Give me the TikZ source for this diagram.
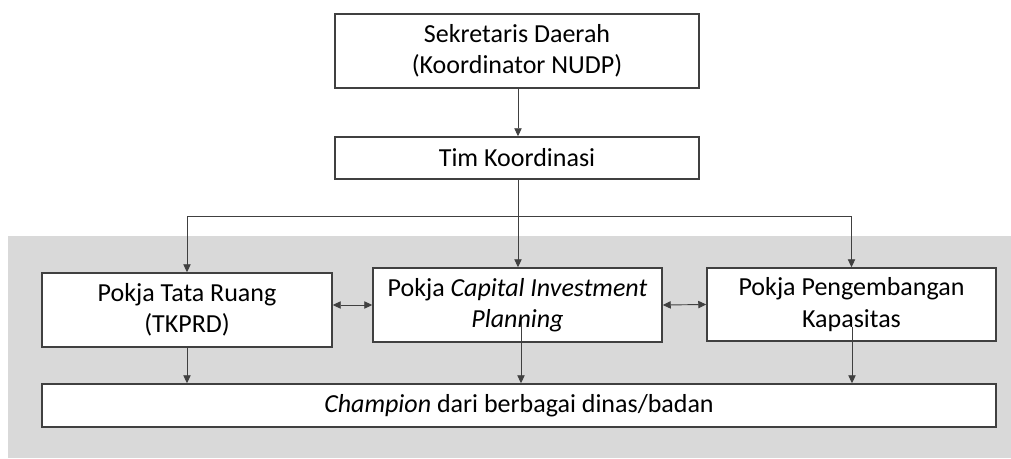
\documentclass[tikz,border=0pt]{standalone}
\usepackage{fontspec}
\setmainfont{Carlito}
\usetikzlibrary{arrows.meta}
\definecolor{bggray}{HTML}{D9D9D9}
\definecolor{linegray}{HTML}{404040}
\tikzset{
    box/.style={draw=linegray,line width=1.1pt,fill=white,align=center,inner sep=0pt,font=\fontsize{19.5}{23.5}\selectfont},
    conn/.style={draw=linegray,line width=0.7pt,-{Triangle[length=6pt,width=5.5pt]}},
    biconn/.style={draw=linegray,line width=0.7pt,{Triangle[length=6pt,width=5.5pt]}-{Triangle[length=6pt,width=5.5pt]}}
}
\begin{document}
\begin{tikzpicture}[x=0.75pt,y=0.75pt]
        \useasboundingbox(0,0)rectangle(1011,458);
        \fill[bggray](8,0)rectangle(1011,222);
        \node[box,minimum width=273pt,minimum height=55.5pt](sekda)at(517,407){Sekretaris Daerah\\(Koordinator NUDP)};
        \node[box,minimum width=273pt,minimum height=31.5pt](tim)at(517,300){Tim Koordinasi};
        \node[box,minimum width=217.5pt,minimum height=55.5pt](tr)at(187,148){Pokja Tata Ruang\\(TKPRD)};
        \node[box,minimum width=216.75pt,minimum height=55.5pt](cip)at(517.5,153){Pokja \textit{Capital Investment}\\\textit{Planning}};
        \node[box,minimum width=216.75pt,minimum height=54.75pt](pk)at(851.5,153.5){Pokja Pengembangan\\Kapasitas};
        \node[box,minimum width=715.5pt,minimum height=32.25pt](ch)at(519,52.5){\textit{Champion} dari berbagai dinas/badan};
        \coordinate(split)at(518,242);
        \draw[conn](sekda.south-|split)--(tim.north-|split);
        \draw[conn](tim.south-|split)--(cip.north-|split);
        \draw[conn](tim.south-|split)|-(split)-|(tr.north);
        \draw[conn](tim.south-|split)|-(split)-|(pk.north);
        \draw[biconn](cip.west-|tr.east)--(cip.west);
        \draw[biconn](cip.east)--(pk.west);
        \draw[conn](tr.south)--(tr.south|-ch.north);
        \draw[conn](521,138)--(521,0|-ch.north);
        \draw[conn](852,131)--(852,0|-ch.north);
    \end{tikzpicture}
\end{document}
